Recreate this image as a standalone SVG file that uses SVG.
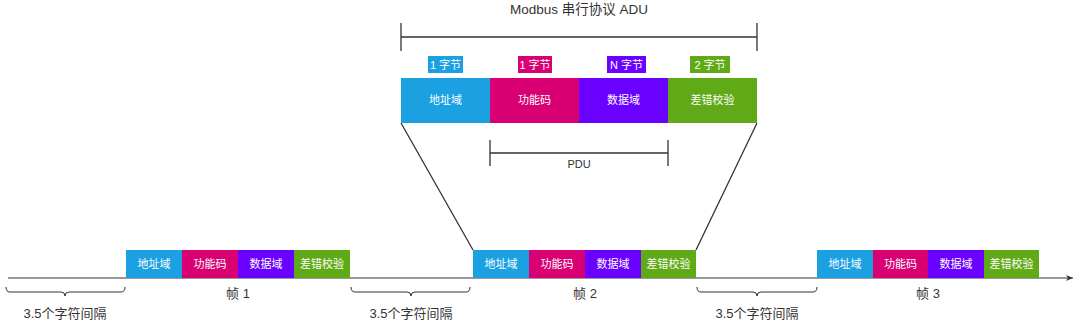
<svg xmlns="http://www.w3.org/2000/svg" width="1080" height="323" viewBox="0 0 1080 323">
<style>
.t{font-family:"Liberation Sans","Noto Sans CJK SC",sans-serif;fill:#333333;text-anchor:middle}
.w{font-family:"Liberation Sans","Noto Sans CJK SC",sans-serif;fill:#ffffff;text-anchor:middle;font-size:11px}
.b{fill:#1BA1E2}.m{fill:#D80073}.p{fill:#6A00FF}.g{fill:#60A917}
.ln{stroke:#333;stroke-width:1.3;fill:none}
.br{stroke:#333;stroke-width:1;fill:none}
</style>
<defs>
<marker id="arr" markerWidth="8" markerHeight="8" refX="7" refY="4" orient="auto" markerUnits="userSpaceOnUse">
<path d="M0,1 L7,4 L0,7 L2,4 Z" fill="#333"/>
</marker>
</defs>
<rect width="1080" height="323" fill="#fff"/>
<g id="title"><text class="t" x="579" y="14" font-size="13.5">Modbus 串行协议 ADU</text></g>
<g id="connectors">
<path class="ln" d="M401,37 H757 M401,23 V51 M757,23 V51"/>
<path class="ln" d="M490,153 H668 M490,140 V166 M668,140 V166"/>
<path class="ln" d="M401,123 L473,250 M757,123 L696,250"/>
<path class="br" d="M8,278 H1073" stroke="#333" marker-end="url(#arr)"/>
<path class="br" d="M6,287 Q6,292 10,292 H61 Q65,292 65,296 Q65,292 69,292 H121 Q125,292 125,287"/>
<path class="br" d="M351,287 Q351,292 355,292 H407 Q411,292 411,296 Q411,292 415,292 H466 Q470,292 470,287"/>
<path class="br" d="M697,287 Q697,292 701,292 H753 Q757,292 757,296 Q757,292 761,292 H813 Q817,292 817,287"/>
</g>
<g id="adu">
<rect class="b" x="428" y="56" width="35" height="17"/><text class="w" x="445.5" y="68.5" font-size="12">1 字节</text>
<rect class="m" x="518" y="56" width="34" height="17"/><text class="w" x="535" y="68.5" font-size="12">1 字节</text>
<rect class="p" x="607" y="56" width="39" height="17"/><text class="w" x="626.5" y="68.5" font-size="12">N 字节</text>
<rect class="g" x="690" y="56" width="40" height="17"/><text class="w" x="710" y="68.5" font-size="12">2 字节</text>
<rect class="b" x="401" y="78" width="89" height="45"/><text class="w" x="445.5" y="104">地址域</text>
<rect class="m" x="490" y="78" width="89" height="45"/><text class="w" x="534.5" y="104">功能码</text>
<rect class="p" x="579" y="78" width="89" height="45"/><text class="w" x="623.5" y="104">数据域</text>
<rect class="g" x="668" y="78" width="89" height="45"/><text class="w" x="712.5" y="104">差错校验</text>
<text class="t" x="579" y="168" font-size="11">PDU</text>
</g>
<g id="frame1">
<rect class="b" x="126" y="250" width="56" height="28"/><text class="w" x="154" y="268">地址域</text>
<rect class="m" x="182" y="250" width="56" height="28"/><text class="w" x="210" y="268">功能码</text>
<rect class="p" x="238" y="250" width="56" height="28"/><text class="w" x="266" y="268">数据域</text>
<rect class="g" x="294" y="250" width="56" height="28"/><text class="w" x="322" y="268">差错校验</text>
<text class="t" x="238" y="298" font-size="13">帧 1</text>
</g>
<g id="frame2">
<rect class="b" x="473" y="250" width="56" height="28"/><text class="w" x="501" y="268">地址域</text>
<rect class="m" x="529" y="250" width="56" height="28"/><text class="w" x="557" y="268">功能码</text>
<rect class="p" x="585" y="250" width="56" height="28"/><text class="w" x="613" y="268">数据域</text>
<rect class="g" x="641" y="250" width="55" height="28"/><text class="w" x="668.5" y="268">差错校验</text>
<text class="t" x="585" y="298" font-size="13">帧 2</text>
</g>
<g id="frame3">
<rect class="b" x="817" y="250" width="56" height="28"/><text class="w" x="845" y="268">地址域</text>
<rect class="m" x="873" y="250" width="55" height="28"/><text class="w" x="900.5" y="268">功能码</text>
<rect class="p" x="928" y="250" width="56" height="28"/><text class="w" x="956" y="268">数据域</text>
<rect class="g" x="984" y="250" width="55" height="28"/><text class="w" x="1011.5" y="268">差错校验</text>
<text class="t" x="928" y="298" font-size="13">帧 3</text>
</g>
<g id="gaps">
<text class="t" x="65" y="318" font-size="13">3.5个字符间隔</text>
<text class="t" x="411" y="318" font-size="13">3.5个字符间隔</text>
<text class="t" x="757" y="318" font-size="13">3.5个字符间隔</text>
</g>
</svg>
